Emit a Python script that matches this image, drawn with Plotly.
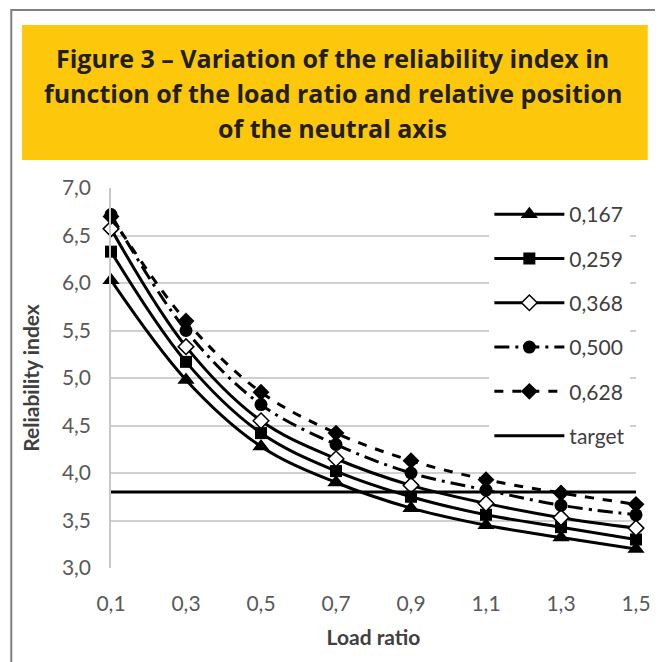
import plotly.graph_objects as go

load_ratio = [0.1, 0.3, 0.5, 0.7, 0.9, 1.1, 1.3, 1.5]
beta_0167 = [6.03, 4.98, 4.28, 3.90, 3.63, 3.45, 3.32, 3.20]
beta_0259 = [6.33, 5.17, 4.42, 4.02, 3.75, 3.56, 3.43, 3.30]
beta_0368 = [6.57, 5.33, 4.55, 4.15, 3.87, 3.68, 3.53, 3.42]
beta_0500 = [6.72, 5.50, 4.72, 4.30, 4.00, 3.82, 3.66, 3.56]
beta_0628 = [6.70, 5.60, 4.85, 4.42, 4.13, 3.93, 3.79, 3.67]
target_x = [0.1, 1.5]
target_y = [3.8, 3.8]
title_lines = [
    "Figure 3 – Variation of the reliability index in",
    "function of the load ratio and relative position",
    "of the neutral axis",
]

series = [
    ("0,167", beta_0167, "triangle-up", "solid", "black", 15),
    ("0,259", beta_0259, "square", "solid", "black", 12),
    ("0,368", beta_0368, "diamond", "solid", "white", 12),
    ("0,500", beta_0500, "circle", "longdashdot", "black", 13),
    ("0,628", beta_0628, "diamond", "dash", "black", 13),
]

fig = go.Figure()
for name, ys, sym, dash, fill, size in series:
    fig.add_trace(go.Scatter(
        x=load_ratio, y=ys, name=name, mode="lines+markers",
        line=dict(color="black", width=3, dash=dash, shape="spline"),
        marker=dict(symbol=sym, size=size, color=fill,
                    line=dict(color="black", width=1.5 if fill == "white" else 0)),
        cliponaxis=False, legendgroup=name,
    ))
fig.add_trace(go.Scatter(
    x=target_x, y=target_y, name="target", mode="lines",
    line=dict(color="black", width=3), legendgroup="target", cliponaxis=False,
))

# page body has an 8px margin: figure coordinates = reference pixels - 8
OFF = 8
W, H = 663 - OFF, 662 - OFF
L, R, T, B = 111 - OFF, 15, 188 - OFF, 94
pw, ph = W - L - R, H - T - B


def px(x):
    return (x - OFF - L) / pw


def py(y):
    return (H - B - (y - OFF)) / ph


annotations = []
for ypos, txt in zip([58, 93, 128], title_lines):
    annotations.append(dict(
        text="<b>" + txt + "</b>", xref="paper", yref="paper",
        x=px(338), y=py(ypos), xanchor="center", yanchor="middle",
        showarrow=False, font=dict(family="Open Sans, sans-serif", size=25, color="#231f20"),
    ))

fig.update_layout(
    width=W, height=H,
    margin=dict(l=L, r=R, t=T, b=B),
    paper_bgcolor="white", plot_bgcolor="white",
    separators=", ",
    font=dict(family="Lato, Open Sans, sans-serif", color="#595959"),
    showlegend=True,
    legend=dict(
        x=px(498), y=py(194), xanchor="left", yanchor="top",
        bgcolor="white", font=dict(size=21, color="#404040"),
        traceorder="grouped", tracegroupgap=14, itemwidth=70,
    ),
    xaxis=dict(
        range=[0.1, 1.5], tickvals=load_ratio, tickformat=".1f",
        showgrid=False, zeroline=False, showline=False,
        tickfont=dict(size=21, color="#595959"), ticks="", ticklabelstandoff=21,
        ticklabeloverflow="allow",
        title=dict(text="<b>Load ratio</b>", font=dict(size=21, color="#404040"), standoff=16),
    ),
    yaxis=dict(
        range=[3.0, 7.0], tickvals=[3.0, 3.5, 4.0, 4.5, 5.0, 5.5, 6.0, 6.5, 7.0], tickformat=".1f",
        showgrid=True, gridcolor="#d0d0d0", gridwidth=1.5, zeroline=False,
        showline=True, linecolor="#c8c8c8", linewidth=1.5,
        tickfont=dict(size=21, color="#595959"), ticks="", ticklabelstandoff=14,
        title=dict(text="<b>Reliability index</b>", font=dict(size=21, color="#404040"), standoff=17),
    ),
    shapes=[
        dict(type="rect", xref="paper", yref="paper",
             x0=px(9), x1=px(700), y0=py(700), y1=py(10),
             line=dict(color="#7f7f7f", width=2), fillcolor="rgba(0,0,0,0)", layer="below"),
        dict(type="rect", xref="paper", yref="paper",
             x0=px(20), x1=px(660), y0=py(160), y1=py(25),
             line=dict(width=0), fillcolor="#FDC70C", layer="below"),
    ],
    annotations=annotations,
)

fig.write_html("out.html")
